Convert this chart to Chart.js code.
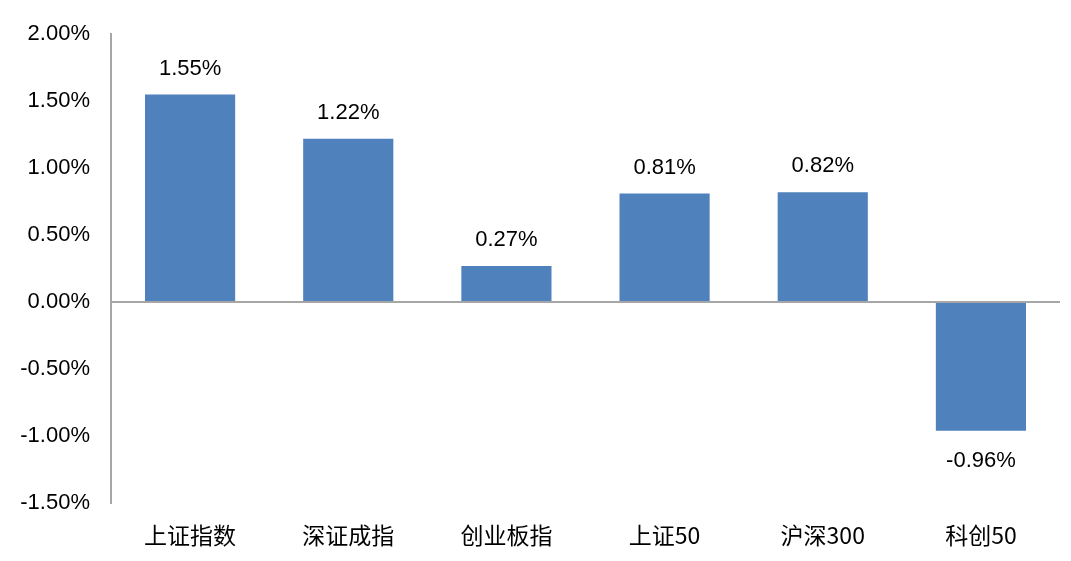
<!DOCTYPE html>
<html>
<head>
<meta charset="utf-8">
<script src="https://cdn.jsdelivr.net/npm/chart.js@4/dist/chart.umd.min.js"></script>
<style>
    html, body { margin: 0; padding: 0; background: #fff; }
    #wrap { width: 1071px; height: 561px; }
</style>
</head>
<body>
<div id="wrap"><canvas id="myChart"></canvas></div>
<script>
const categories = ['上证指数', '深证成指', '创业板指', '上证50', '沪深300', '科创50']
const changes = [1.55, 1.22, 0.27, 0.81, 0.82, -0.96]
const yTicks = [-1.5, -1.0, -0.5, 0, 0.5, 1.0, 1.5, 2.0]

const numFont = 'Liberation Sans, Arial, sans-serif'
const cjkFont = '"Noto Sans CJK SC", sans-serif'

// draws the value above / below each bar
const valueLabels = {
    id: 'valueLabels',
    afterDatasetsDraw(chart) {
        const ctx = chart.ctx
        const meta = chart.getDatasetMeta(0)
        ctx.save()
        ctx.font = '22px ' + numFont
        ctx.fillStyle = '#000'
        ctx.textAlign = 'center'
        ctx.textBaseline = 'middle'
        meta.data.forEach((bar, i) => {
            const v = changes[i]
            const y = v >= 0 ? bar.y - 26 : bar.y + 30
            ctx.fillText(v.toFixed(2) + '%', bar.x, y)
        })
        ctx.restore()
    }
}

const ctx = document.getElementById('myChart').getContext('2d')
const myChart = new Chart(ctx, {
    type: 'bar',
    data: {
        labels: categories,
        datasets: [{
            data: changes,
            backgroundColor: '#4F81BD',
            borderWidth: 0,
            categoryPercentage: 1,
            barPercentage: 0.57,
        }]
    },
    options: {
        responsive: true,
        maintainAspectRatio: false,
        animation: false,
        layout: { padding: { left: 0, right: 11, top: 33, bottom: 0 } },
        plugins: {
            legend: { display: false },
            tooltip: { enabled: false },
        },
        scales: {
            x: {
                grid: { display: false, drawTicks: false },
                border: { display: false },
                ticks: { color: '#000', font: { family: cjkFont, size: 23 }, padding: 18, maxRotation: 0 },
                afterFit(scale) { scale.height = 58 },
            },
            y: {
                min: yTicks[0],
                max: yTicks[yTicks.length - 1],
                afterBuildTicks(scale) { scale.ticks = yTicks.map(v => ({ value: v })) },
                grid: {
                    drawTicks: false,
                    color: c => c.tick && c.tick.value === 0 ? '#A6A6A6' : 'rgba(0,0,0,0)',
                    lineWidth: 2,
                },
                border: { display: true, color: '#A6A6A6', width: 2 },
                ticks: {
                    color: '#000',
                    font: { family: numFont, size: 22 },
                    padding: 21,
                    callback: v => v.toFixed(2) + '%',
                },
                afterFit(scale) { scale.width = 111 },
            }
        }
    },
    plugins: [valueLabels]
})
</script>
</body>
</html>
